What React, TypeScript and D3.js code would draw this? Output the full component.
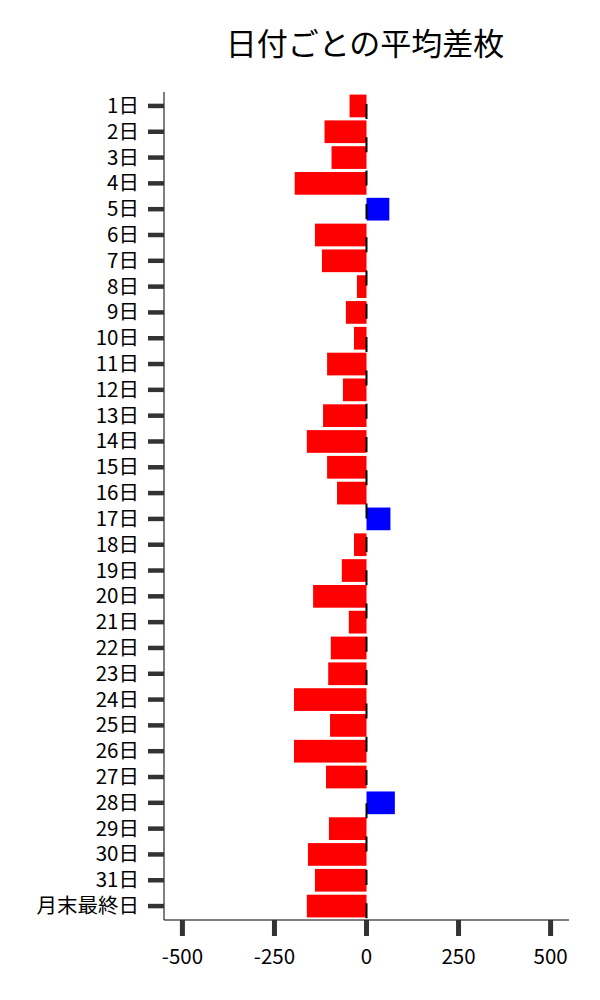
import * as d3 from "d3";

const days = [
  "1日", "2日", "3日", "4日", "5日", "6日", "7日", "8日", "9日", "10日",
  "11日", "12日", "13日", "14日", "15日", "16日", "17日", "18日", "19日", "20日",
  "21日", "22日", "23日", "24日", "25日", "26日", "27日", "28日", "29日", "30日",
  "31日", "月末最終日",
];
const avgDiff = [
  -46, -114, -95, -195, 62, -140, -121, -26, -56, -34,
  -107, -64, -118, -162, -107, -80, 65, -34, -67, -145,
  -48, -97, -104, -197, -99, -197, -110, 77, -102, -159,
  -140, -162,
];
const xTicks = [-500, -250, 0, 250, 500];

const width = 600;
const height = 1000;
const margin = { top: 92, right: 31, bottom: 80, left: 164 };
const font = "'Noto Sans CJK JP', 'Noto Sans', sans-serif";

export default function App() {
  const x = d3
    .scaleLinear()
    .domain([-550, 550])
    .range([margin.left, width - margin.right]);
  const y = d3
    .scaleBand()
    .domain(days)
    .range([margin.top, height - margin.bottom])
    .paddingInner(0.12)
    .paddingOuter(0.1);

  const x0 = x(0);
  const bottom = height - margin.bottom;

  return (
    <svg
      width={width}
      height={height}
      style={{ position: "absolute", left: 0, top: 0, background: "#fff" }}
      fontFamily={font}
    >
      <text x={365} y={55} textAnchor="middle" fontSize={31} fill="#000">
        日付ごとの平均差枚
      </text>

      {/* bars */}
      {days.map((d, i) => {
        const v = avgDiff[i];
        return (
          <rect
            key={d}
            x={Math.min(x(v), x0)}
            y={y(d)}
            width={Math.abs(x(v) - x0)}
            height={y.bandwidth()}
            fill={v < 0 ? "#ff0000" : "#0000ff"}
          />
        );
      })}

      {/* zero line */}
      <line
        x1={x0}
        x2={x0}
        y1={margin.top}
        y2={bottom}
        stroke="#000"
        strokeWidth={2}
        strokeDasharray="15,18.3"
        strokeDashoffset={21.3}
      />

      {/* spines */}
      <line x1={margin.left} x2={margin.left} y1={margin.top} y2={bottom} stroke="#000" strokeWidth={1} />
      <line x1={margin.left} x2={width - margin.right} y1={bottom} y2={bottom} stroke="#000" strokeWidth={1} />

      {/* y ticks */}
      {days.map((d) => {
        const cy = (y(d) ?? 0) + y.bandwidth() / 2;
        return (
          <g key={`yt-${d}`}>
            <line x1={148} x2={margin.left} y1={cy} y2={cy} stroke="#333" strokeWidth={4.5} />
            <text x={139} y={cy + 7} textAnchor="end" fontSize={20.5} fill="#000">
              {d}
            </text>
          </g>
        );
      })}

      {/* x ticks */}
      {xTicks.map((t) => (
        <g key={`xt-${t}`}>
          <line x1={x(t)} x2={x(t)} y1={bottom} y2={bottom + 16} stroke="#333" strokeWidth={5} />
          <text x={x(t)} y={bottom + 44} textAnchor="middle" fontSize={20.5} fill="#000">
            {t}
          </text>
        </g>
      ))}
    </svg>
  );
}
